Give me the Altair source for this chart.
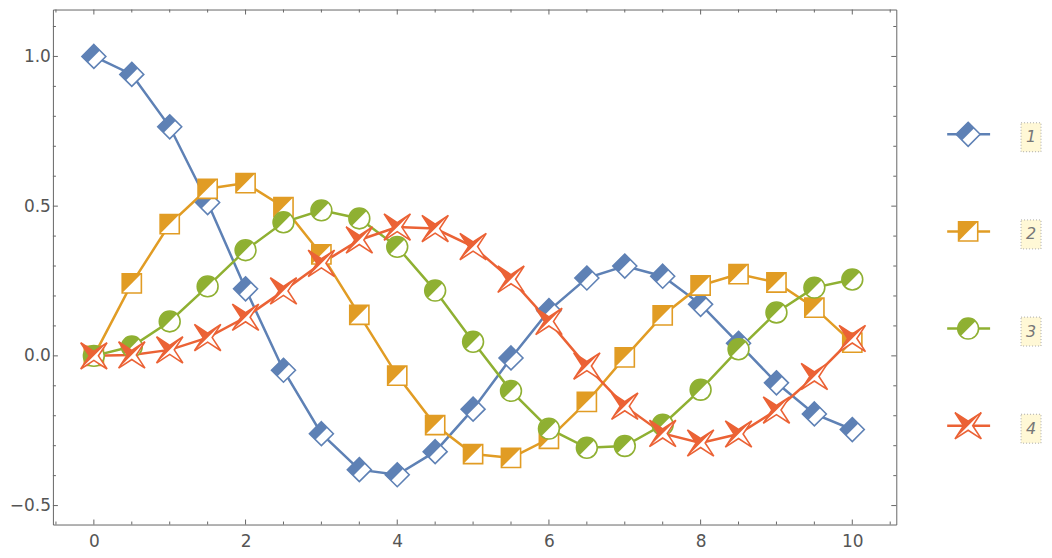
import altair as alt
import pandas as pd

# ---- data ----
xs = [0, 0.5, 1, 1.5, 2, 2.5, 3, 3.5, 4, 4.5, 5, 5.5, 6, 6.5, 7, 7.5, 8, 8.5, 9, 9.5, 10]
s1 = [1.0, 0.94, 0.765, 0.512, 0.224, -0.048, -0.26, -0.38, -0.397, -0.32, -0.178, -0.007, 0.151, 0.26, 0.3, 0.266, 0.172, 0.042, -0.09, -0.194, -0.246]
s2 = [0.0, 0.242, 0.44, 0.558, 0.577, 0.497, 0.339, 0.137, -0.066, -0.231, -0.328, -0.341, -0.277, -0.154, -0.005, 0.135, 0.235, 0.273, 0.245, 0.161, 0.044]
s3 = [0.0, 0.031, 0.115, 0.232, 0.353, 0.446, 0.486, 0.459, 0.364, 0.218, 0.047, -0.117, -0.243, -0.307, -0.301, -0.23, -0.113, 0.022, 0.145, 0.228, 0.255]
s4 = [0.0, 0.003, 0.02, 0.061, 0.129, 0.217, 0.309, 0.387, 0.43, 0.425, 0.365, 0.256, 0.115, -0.034, -0.168, -0.259, -0.291, -0.261, -0.181, -0.069, 0.058]
series_names = ["1", "2", "3", "4"]
colors = ["#5E81B5", "#E19C24", "#8FB032", "#EB6235"]

x_major = [0, 2, 4, 6, 8, 10]
x_minor = [-0.5, 0.5, 1, 1.5, 2.5, 3, 3.5, 4.5, 5, 5.5, 6.5, 7, 7.5, 8.5, 9, 9.5, 10.5]
y_major = [-0.5, 0.0, 0.5, 1.0]
y_minor = [-0.4, -0.3, -0.2, -0.1, 0.1, 0.2, 0.3, 0.4, 0.6, 0.7, 0.8, 0.9, 1.1]

# ---- marker shapes (outline and half-filled part) ----
outline_paths = [
    "M 0 -1 L 1 0 L 0 1 L -1 0 Z",
    "M -0.8 -0.8 L 0.8 -0.8 L 0.8 0.8 L -0.8 0.8 Z",
    "M -0.87 0 A 0.87 0.87 0 1 1 0.87 0 A 0.87 0.87 0 1 1 -0.87 0 Z",
    "M -1.1 -1.1 L 0 -0.38 L 1.1 -1.1 L 0.38 0 L 1.1 1.1 L 0 0.38 L -1.1 1.1 L -0.38 0 Z",
]
half_paths = [
    "M -1 0 L 0 -1 L 0.5 -0.5 L -0.5 0.5 Z",
    "M -0.8 -0.8 L 0.8 -0.8 L -0.8 0.8 Z",
    "M -0.615 0.615 A 0.87 0.87 0 0 1 0.615 -0.615 Z",
    "M -1.1 1.1 L -0.38 0 L -1.1 -1.1 L 0 -0.38 L 1.1 -1.1 Z",
]

rows = []
for name, vals in zip(series_names, [s1, s2, s3, s4]):
    for x, v in zip(xs, vals):
        rows.append({"x": x, "y": v, "series": name})
df = pd.DataFrame(rows)

W, H = 845, 516
FRAME = "#666666"
FONT = "DejaVu Sans"

xscale = alt.Scale(domain=[-0.54, 10.58], nice=False, zero=False, padding=0)
yscale = alt.Scale(domain=[-0.5633, 1.1567], nice=False, zero=False, padding=0)
cscale = alt.Scale(domain=series_names, range=colors)

xaxis = alt.Axis(values=x_major, format="d", ticks=False, domain=False, grid=False, title=None,
                 labelFont=FONT, labelFontSize=17, labelColor="#555555", labelPadding=9)
yaxis = alt.Axis(values=y_major, format=".1f", ticks=False, domain=False, grid=False, title=None,
                 labelFont=FONT, labelFontSize=17, labelColor="#555555", labelPadding=2.5,
                 minExtent=44, maxExtent=44)

base = alt.Chart(df)

lines = base.mark_line(strokeWidth=2.5).encode(
    x=alt.X("x:Q", scale=xscale, axis=xaxis),
    y=alt.Y("y:Q", scale=yscale, axis=yaxis),
    color=alt.Color("series:N", scale=cscale, legend=None),
    detail="series:N",
)

layers = [lines]
for i, name in enumerate(series_names):
    sub = base.transform_filter(alt.datum.series == name)
    layers.append(sub.mark_point(filled=True, fill="white", stroke=colors[i], strokeWidth=1.6,
                                 size=576, opacity=1, shape=outline_paths[i]).encode(
        x=alt.X("x:Q", scale=xscale), y=alt.Y("y:Q", scale=yscale)))
    layers.append(sub.mark_point(filled=True, fill=colors[i], strokeWidth=0,
                                 size=576, opacity=1, shape=half_paths[i]).encode(
        x=alt.X("x:Q", scale=xscale), y=alt.Y("y:Q", scale=yscale)))

# frame ticks (inward)
def xticks(vals, ln):
    d = alt.Chart(pd.DataFrame({"x": vals}))
    bottom = d.mark_rule(color=FRAME, strokeWidth=1).encode(
        x=alt.X("x:Q", scale=xscale), y=alt.value(H), y2=alt.value(H - ln))
    top = d.mark_rule(color=FRAME, strokeWidth=1).encode(
        x=alt.X("x:Q", scale=xscale), y=alt.value(0), y2=alt.value(ln))
    return [bottom, top]

def yticks(vals, ln):
    d = alt.Chart(pd.DataFrame({"y": vals}))
    left = d.mark_rule(color=FRAME, strokeWidth=1).encode(
        y=alt.Y("y:Q", scale=yscale), x=alt.value(0), x2=alt.value(ln))
    right = d.mark_rule(color=FRAME, strokeWidth=1).encode(
        y=alt.Y("y:Q", scale=yscale), x=alt.value(W), x2=alt.value(W - ln))
    return [left, right]

tick_layers = xticks(x_major, 5) + xticks(x_minor, 3) + yticks(y_major, 5) + yticks(y_minor, 3)

main = alt.layer(*(tick_layers + layers)).properties(
    width=W, height=H,
    view=alt.ViewBackground(stroke=FRAME, strokeWidth=1),
)

# ---- legend panel ----
leg_df = pd.DataFrame({"series": series_names})
lyscale = alt.Scale(type="point", domain=series_names, range=[125, 417], padding=0)
lbase = alt.Chart(leg_df)
ly = alt.Y("series:N", scale=lyscale, axis=None)

leg_layers = [
    lbase.mark_rule(strokeWidth=2.5).encode(
        y=ly, x=alt.value(50), x2=alt.value(93),
        color=alt.Color("series:N", scale=cscale, legend=None)),
]
for i, name in enumerate(series_names):
    sub = lbase.transform_filter(alt.datum.series == name)
    leg_layers.append(sub.mark_point(filled=True, fill="white", stroke=colors[i], strokeWidth=1.6,
                                     size=576, opacity=1, shape=outline_paths[i]).encode(
        y=ly, x=alt.value(71)))
    leg_layers.append(sub.mark_point(filled=True, fill=colors[i], strokeWidth=0,
                                     size=576, opacity=1, shape=half_paths[i]).encode(
        y=ly, x=alt.value(71)))

leg_layers.append(lbase.mark_point(
    filled=True, fill="#FFF8D6", stroke="#AAAAAA", strokeWidth=1, strokeDash=[1, 2],
    size=841, opacity=1, shape="M -0.69 -1 L 0.69 -1 L 0.69 1 L -0.69 1 Z", yOffset=3,
).encode(y=ly, x=alt.value(134)))
leg_layers.append(lbase.mark_text(
    font=FONT, fontSize=16, fontStyle="italic", color="#777777", baseline="middle",
    align="center", yOffset=3,
).encode(y=ly, x=alt.value(134), text="series:N"))

legend = alt.layer(*leg_layers).properties(
    width=140, height=H,
    view=alt.ViewBackground(stroke="transparent", strokeWidth=0),
)

chart = alt.hconcat(main, legend, spacing=0).properties(
    padding={"left": 0, "top": 0, "right": 0, "bottom": 0},
    background="white",
).configure_view(stroke=None)

chart.save("out.html", embed_options={"renderer": "svg", "actions": False})
